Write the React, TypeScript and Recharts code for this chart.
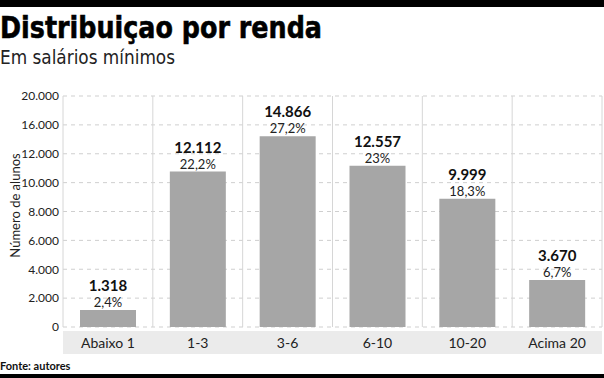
import { BarChart, Bar, XAxis, YAxis, CartesianGrid, LabelList, Label } from "recharts";

const categories = ["Abaixo 1", "1-3", "3-6", "6-10", "10-20", "Acima 20"];
const alunos = [1318, 12112, 14866, 12557, 9999, 3670];
const percentuais = ["2,4%", "22,2%", "27,2%", "23%", "18,3%", "6,7%"];
// the printed axis is not linear: grid lines are evenly spaced, labels are not
const yTickLabels = ["0", "2.000", "4.000", "6.000", "8.000", "10.000", "12.000", "16.000", "20.000"];
const yTickStep = 2250;

const data = categories.map((faixa, i) => ({ faixa, alunos: alunos[i], pct: percentuais[i] }));
const yTicks = yTickLabels.map((_, i) => i * yTickStep);

const W = 604;
const H = 378;
const FONT = "Lato, 'Open Sans', sans-serif";

// 12112 -> "12.112"
const fmt = (v: number) => String(v).replace(/\B(?=(\d{3})+(?!\d))/g, ".");

const renderValue = (props: any) => {
  const { x, y, width, value, index } = props;
  const cx = x + width / 2;
  return (
    <g>
      <text x={cx} y={y - 19} textAnchor="middle" fontFamily={FONT} fontWeight={700} fontSize={15} fill="#111">
        {fmt(value)}
      </text>
      <text x={cx} y={y - 3} textAnchor="middle" fontFamily={FONT} fontSize={13} fill="#222">
        {percentuais[index]}
      </text>
    </g>
  );
};

export default function App() {
  return (
    <div style={{ position: "absolute", left: 0, top: 0, width: W, height: H, background: "#fff", overflow: "hidden" }}>
      {/* top and bottom rules */}
      <div style={{ position: "absolute", left: 0, top: 0, width: W, height: 7, background: "#000" }} />
      <div style={{ position: "absolute", left: 0, top: 374, width: W, height: 4, background: "#000" }} />

      {/* grey strip behind the category labels */}
      <div style={{ position: "absolute", left: 63, top: 331, width: 539, height: 23, background: "#ebebeb" }} />

      <svg width={W} height={80} style={{ position: "absolute", left: 0, top: 0 }}>
        <text x={0} y={38} fontFamily="'DejaVu Sans', sans-serif" fontWeight={900} fontSize={30} fill="#000"
          stroke="#000" strokeWidth={0.6} textLength={322} lengthAdjust="spacingAndGlyphs">
          Distribuiçao por renda
        </text>
        <text x={0} y={64} fontFamily="'Liberation Sans Narrow', 'DejaVu Sans Condensed', sans-serif" fontSize={20} fill="#222"
          textLength={175} lengthAdjust="spacingAndGlyphs">
          Em salários mínimos
        </text>
      </svg>

      <div style={{ position: "absolute", left: 0, top: 0 }}>
        <BarChart width={W} height={H} data={data} margin={{ top: 96, right: 2, left: 0, bottom: 23 }}>
          <CartesianGrid vertical={false} stroke="#cfcfcf" strokeDasharray="4 4" />
          <CartesianGrid
            horizontal={false}
            stroke="#d6d6d6"
            verticalCoordinatesGenerator={({ offset }: any) =>
              Array.from({ length: categories.length + 1 }, (_, i) => offset.left + (i * offset.width) / categories.length)
            }
          />
          <XAxis
            dataKey="faixa"
            axisLine={false}
            tickLine={false}
            tickSize={0}
            tickMargin={11}
            height={28}
            interval={0}
            tick={{ fill: "#222", fontSize: 14, fontFamily: FONT }}
          />
          <YAxis
            type="number"
            domain={[0, yTicks[yTicks.length - 1]]}
            ticks={yTicks}
            interval={0}
            width={63}
            axisLine={false}
            tickLine={false}
            tickSize={0}
            tickMargin={4}
            tickFormatter={(_v: number, i: number) => yTickLabels[i]}
            tick={{ fill: "#222", fontSize: 12, fontFamily: FONT }}
          >
            <Label value="Número de alunos" angle={-90} position="center" dx={-16} dy={-6}
              style={{ fill: "#222", fontSize: 13, fontFamily: FONT }} />
          </YAxis>
          <Bar dataKey="alunos" fill="#a6a6a6" barSize={56} isAnimationActive={false}>
            <LabelList dataKey="alunos" content={renderValue} />
          </Bar>
        </BarChart>
      </div>

      <div style={{ position: "absolute", left: 0, top: 359, fontFamily: FONT, fontWeight: 700, fontSize: 11, color: "#111" }}>
        Fonte: autores
      </div>
    </div>
  );
}
